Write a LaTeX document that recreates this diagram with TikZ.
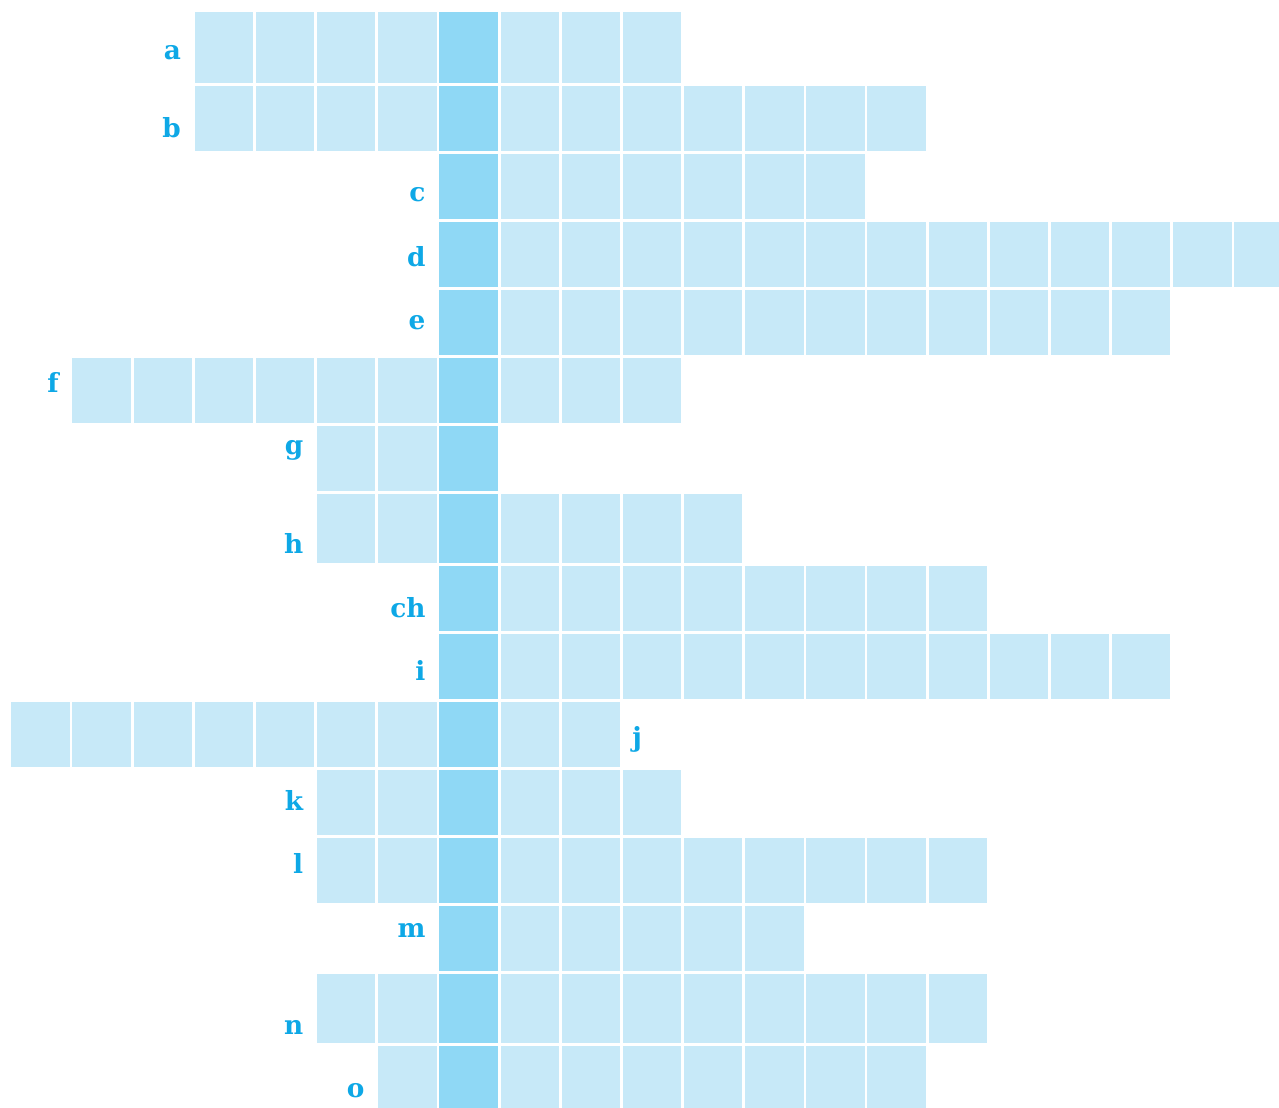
\documentclass[tikz,border=0pt]{standalone}
\usepackage{fontspec}
\newfontfamily\cluefont{DejaVu Serif}
\definecolor{cellblue}{HTML}{C7E9F8}
\definecolor{keyblue}{HTML}{8FD8F5}
\definecolor{clueblue}{HTML}{0EA8E6}
\tikzset{
  cell/.style={fill=cellblue},
  keycell/.style={fill=keyblue},
  clue/.style={text=clueblue,inner sep=0pt,font=\cluefont\bfseries\fontsize{15}{15}\selectfont},
}
\begin{document}
\begin{tikzpicture}[x=0.02cm,y=-0.02cm]
  \useasboundingbox (0,0) rectangle (1279,1108);
  \clip (0,0) rectangle (1279,1108);
  \foreach \name/\top/\bot/\first/\last/\base/\side in {
      a/12.3/82.7/3/10/60/east, b/85.7/151/3/14/138/east,
      c/153.7/219/7/13/202/east, d/221.7/287/7/20/267/east,
      e/289.7/355/7/18/330/east, f/357.7/423.3/1/10/393/east,
      g/426/491.3/5/7/455/east, h/494/563/5/11/553/east,
      ch/565.7/631/7/15/617/east, i/633.7/699/7/18/680/east,
      j/701.7/767.3/0/9/746/west, k/770/835.3/5/10/810/east,
      l/838/903.3/5/15/873/east, m/906/971.3/7/12/937/east,
      n/974/1043.3/5/15/1034/east, o/1046/1112/6/14/1097/east}{
    \foreach \k in {\first,...,\last}{
      \pgfmathsetmacro{\cx}{11.3+61.15*\k}
      \ifnum\k=7
        \fill[keycell] (\cx,\top) rectangle ++(58.4,\bot-\top);
      \else
        \fill[cell] (\cx,\top) rectangle ++(58.4,\bot-\top);
      \fi
    }
    \ifnum\pdfstrcmp{\side}{east}=0
      \pgfmathsetmacro{\lx}{11.3+61.15*\first-13.5}
    \else
      \pgfmathsetmacro{\lx}{11.3+61.15*\last+58.4+12}
    \fi
    \node[clue,anchor=base \side] (clue-\name) at (\lx,\base) {\name};
  }
\end{tikzpicture}
\end{document}
